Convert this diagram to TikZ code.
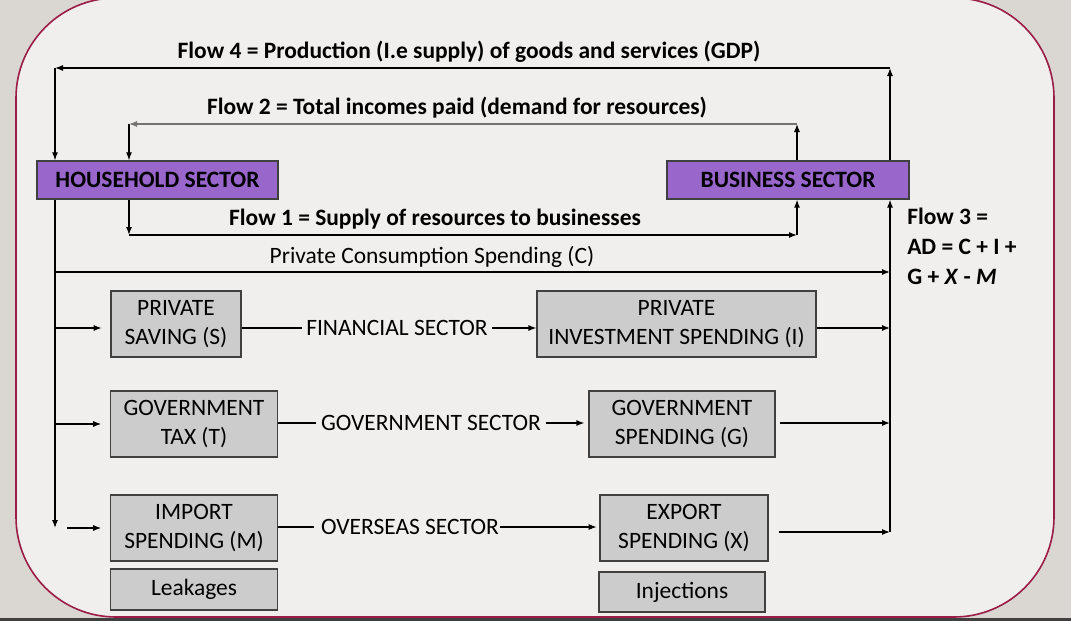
\documentclass[tikz,border=0pt]{standalone}
\usepackage{fontspec}
\setmainfont{Carlito}
\usetikzlibrary{arrows.meta}
\definecolor{bgout}{HTML}{DAD7D2}
\definecolor{bgin}{HTML}{F0EFED}
\definecolor{rim}{HTML}{9A1C47}
\definecolor{sectfill}{HTML}{9966CC}
\definecolor{boxfill}{HTML}{CCCCCC}
\definecolor{boxline}{HTML}{404040}
\begin{document}
\begin{tikzpicture}[x=0.75pt,y=-0.75pt,
  font=\fontsize{17.6}{21.75}\selectfont,
  sector/.style={draw=boxline,fill=sectfill,line width=1pt,inner sep=0pt,font=\fontsize{17.6}{21.75}\selectfont\bfseries},
  flowbox/.style={draw=boxline,fill=boxfill,line width=0.9pt,inner sep=0pt,align=center},
  flowlbl/.style={font=\fontsize{17.6}{21.75}\selectfont\bfseries},
  link/.style={line width=0.9pt,-{Latex[length=6pt,width=4.5pt]}},
  plain/.style={line width=0.9pt}]
\useasboundingbox (0,0) rectangle (1071,621);
\fill[bgout] (0,0) rectangle (1071,621);
\fill[black!75] (0,618) rectangle (1071,621);
\filldraw[fill=bgin,draw=rim,line width=1.2pt,rounded corners=75pt] (16,-2) rectangle (1054,617);

\node[sector,minimum width=180.75pt,minimum height=28.5pt] (hh) at (157.5,180) {HOUSEHOLD SECTOR};
\node[sector,minimum width=181.5pt,minimum height=28.5pt] (bs) at (788,180) {BUSINESS SECTOR};

\node[flowbox,minimum width=97.5pt,minimum height=49.5pt] (sav) at (176,324) {PRIVATE\\SAVING (S)};
\node[flowbox,minimum width=209.25pt,minimum height=49.5pt] (inv) at (676.5,324) {PRIVATE\\INVESTMENT SPENDING (I)};
\node[flowbox,minimum width=125.25pt,minimum height=49.5pt] (tax) at (194,424) {GOVERNMENT\\TAX (T)};
\node[flowbox,minimum width=139.5pt,minimum height=49.5pt] (gsp) at (682,424) {GOVERNMENT\\SPENDING (G)};
\node[flowbox,minimum width=125.25pt,minimum height=49.5pt] (imp) at (194,528) {IMPORT\\SPENDING (M)};
\node[flowbox,minimum width=126pt,minimum height=49.5pt] (exp) at (684,528) {EXPORT\\SPENDING (X)};
\node[flowbox,minimum width=125.25pt,minimum height=30.75pt] (leak) at (194,589.5) {Leakages};
\node[flowbox,minimum width=124.5pt,minimum height=30pt] (inj) at (682,592) {Injections};

\node[flowlbl] (f4t) at (469,52) {Flow 4 = Production (I.e supply) of goods and services (GDP)};
\node[flowlbl] (f2t) at (457,108) {Flow 2 = Total incomes paid (demand for resources)};
\node[flowlbl] (f1t) at (435,219.5) {Flow 1 = Supply of resources to businesses};
\node (pct) at (432,257) {Private Consumption Spending (C)};
\node[flowlbl,align=left,anchor=north west,inner sep=0pt,font=\fontsize{17.6}{22.5}\selectfont\bfseries] (f3t) at (907,208) {Flow 3 =\\AD = C + I +\\G + \textit{X} - \textit{M}};
\node (fin) at (397,328) {FINANCIAL SECTOR};
\node (gov) at (431,423) {GOVERNMENT SECTOR};
\node[inner sep=1pt] (ovs) at (410,527) {OVERSEAS SECTOR};

\coordinate (f4l) at (55,68);
\coordinate (f4r) at (890,68);
\coordinate (f2l) at (129,124);
\coordinate (f2r) at (797,124);
\coordinate (f1l) at (129,235);
\coordinate (f1r) at (797,235);
\coordinate (spine) at (55,528);
\coordinate (pc) at (890,272);
\coordinate (ad) at (890,532);

\draw[link] (f4r |- bs.north) -- (f4r);
\draw[link] (f4r) -- (f4l);
\draw[link] (f4l) -- (f4l |- hh.north);

\draw[link] (f2r |- bs.north) -- (f2r);
\draw[link,draw=black!55] (f2r) -- (f2l);
\draw[link] (f2l) -- (f2l |- hh.north);

\draw[link] (f1l |- hh.south) -- (f1l);
\draw[link] (f1l) -- (f1r);
\draw[link] (f1r) -- (f1r |- bs.south);

\draw[link] (spine |- hh.south) -- (spine);
\draw[link] (spine |- pc) -- (pc);
\draw[link] (ad) -- (ad |- bs.south);

\draw[link,shorten >=6.5pt] (spine |- fin) -- (sav.west |- fin);
\draw[plain] (sav.east |- fin) -- (fin.west);
\draw[link] (fin.east) -- (inv.west |- fin);
\draw[link] (inv.east |- fin) -- (ad |- fin);

\draw[link,shorten >=6.5pt] (spine |- tax.west) -- (tax.west);
\draw[plain] (tax.east |- gov) -- (gov.west);
\draw[link,shorten >=3pt] (gov.east) -- (gsp.west |- gov);
\draw[link,shorten <=3pt] (gsp.east |- gov) -- (ad |- gov);

\draw[link,shorten <=9pt,shorten >=6.5pt] (spine) -- (imp.west);
\draw[plain,shorten >=4pt] (imp.east |- ovs) -- (ovs.west);
\draw[link,shorten >=2pt] (ovs.east) -- (exp.west |- ovs);
\draw[link,shorten <=7.5pt] (exp.east |- ad) -- (ad);
\end{tikzpicture}
\end{document}
